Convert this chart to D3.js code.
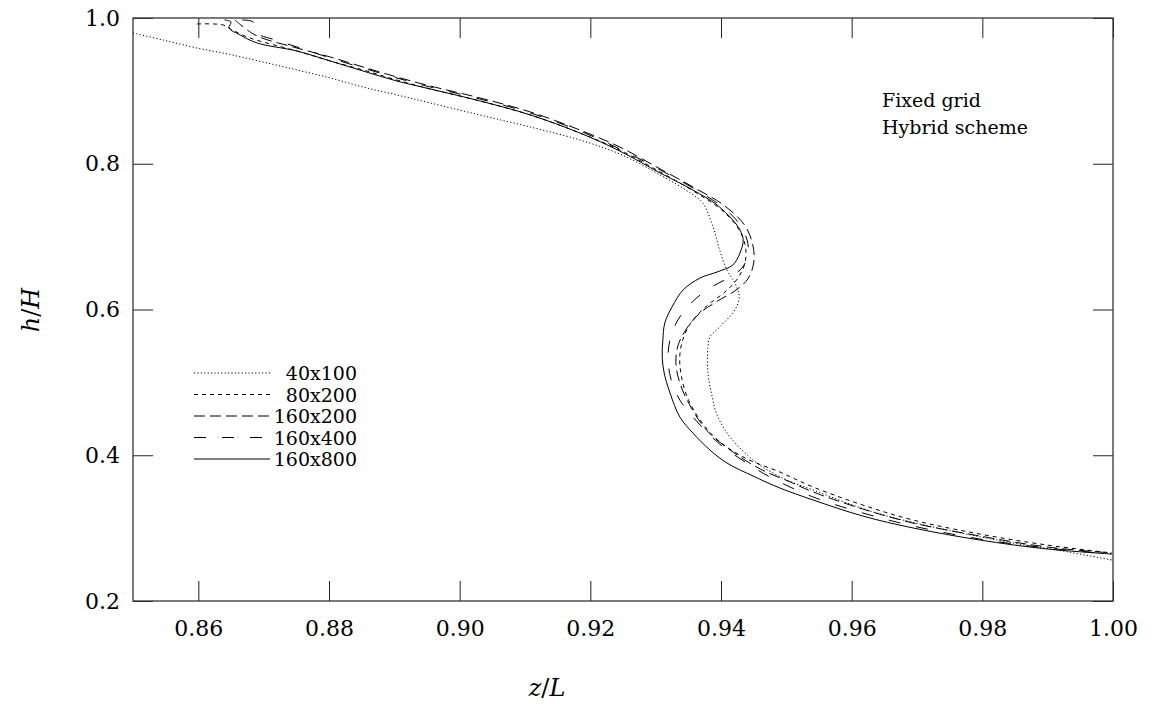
<!DOCTYPE html>
<html>
<head>
<meta charset="utf-8">
<script src="https://cdn.jsdelivr.net/npm/d3@7"></script>
<style>
  body { margin: 0; background: #fff; }
  svg { display: block; font-family: "DejaVu Serif", serif; }
</style>
</head>
<body>
<svg id="chart" width="1154" height="709"></svg>
<script>
// series names + dash styles (legend order)
const seriesNames = ["40x100", "80x200", "160x200", "160x400", "160x800"];
const dashes = ["1.2,2.2", "4,4", "11,5", "12,16", null];

const xTicks = [0.86, 0.88, 0.90, 0.92, 0.94, 0.96, 0.98, 1.00];
const yTicks = [0.2, 0.4, 0.6, 0.8, 1.0];

// 40x100 (dotted)
const z40x100 = [0.8500, 0.8546, 0.8598, 0.8648, 0.8699, 0.8751, 0.8802, 0.8852, 0.8904, 0.8955, 0.9031, 0.9108, 0.9184, 0.9245, 0.9307, 0.9353, 0.9372, 0.9388, 0.9398, 0.9409, 0.9421, 0.9428, 0.9421, 0.9398, 0.9383, 0.9380, 0.9380, 0.9386, 0.9394, 0.9414, 0.9455, 0.9501, 0.9541, 0.9593, 0.9643, 0.9746, 0.9847, 0.9923, 0.9998];
const h40x100 = [0.9794, 0.9698, 0.9588, 0.9500, 0.9396, 0.9287, 0.9177, 0.9053, 0.8944, 0.8834, 0.8669, 0.8504, 0.8326, 0.8134, 0.7846, 0.7599, 0.7461, 0.7132, 0.6816, 0.6542, 0.6364, 0.6172, 0.5993, 0.5760, 0.5623, 0.5485, 0.5129, 0.4827, 0.4552, 0.4250, 0.3894, 0.3660, 0.3523, 0.3345, 0.3194, 0.2974, 0.2796, 0.2686, 0.2563];

// 80x200 (short dash)
const z80x200 = [0.8598, 0.8638, 0.8652, 0.8679, 0.8751, 0.8802, 0.8852, 0.8904, 0.8955, 0.9031, 0.9108, 0.9184, 0.9245, 0.9307, 0.9360, 0.9401, 0.9426, 0.9437, 0.9437, 0.9426, 0.9406, 0.9380, 0.9357, 0.9343, 0.9337, 0.9339, 0.9349, 0.9368, 0.9395, 0.9437, 0.9490, 0.9541, 0.9617, 0.9694, 0.9796, 0.9899, 0.9998];
const h80x200 = [0.9918, 0.9904, 0.9835, 0.9726, 0.9547, 0.9410, 0.9287, 0.9149, 0.9026, 0.8862, 0.8670, 0.8422, 0.8189, 0.7887, 0.7613, 0.7365, 0.7118, 0.6885, 0.6652, 0.6432, 0.6240, 0.6062, 0.5856, 0.5623, 0.5376, 0.5101, 0.4786, 0.4484, 0.4209, 0.3962, 0.3770, 0.3564, 0.3317, 0.3111, 0.2919, 0.2768, 0.2659];

// 160x200 (medium dash)
const z160x200 = [0.8656, 0.8667, 0.8690, 0.8751, 0.8802, 0.8852, 0.8904, 0.8955, 0.9031, 0.9108, 0.9184, 0.9245, 0.9307, 0.9360, 0.9406, 0.9437, 0.9449, 0.9450, 0.9441, 0.9421, 0.9395, 0.9368, 0.9347, 0.9334, 0.9331, 0.9337, 0.9353, 0.9379, 0.9414, 0.9460, 0.9506, 0.9541, 0.9617, 0.9694, 0.9796, 0.9899, 0.9998];
const h160x200 = [0.9973, 0.9890, 0.9753, 0.9588, 0.9465, 0.9328, 0.9190, 0.9067, 0.8903, 0.8711, 0.8463, 0.8230, 0.7928, 0.7667, 0.7420, 0.7146, 0.6871, 0.6638, 0.6418, 0.6254, 0.6117, 0.5952, 0.5733, 0.5500, 0.5266, 0.4992, 0.4676, 0.4333, 0.4072, 0.3811, 0.3633, 0.3496, 0.3262, 0.3070, 0.2892, 0.2741, 0.2659];

// 160x400 (long dash)
const z160x400 = [0.8667, 0.8684, 0.8690, 0.8718, 0.8756, 0.8802, 0.8852, 0.8904, 0.8955, 0.9031, 0.9108, 0.9184, 0.9245, 0.9307, 0.9357, 0.9398, 0.9426, 0.9440, 0.9441, 0.9432, 0.9411, 0.9383, 0.9356, 0.9334, 0.9322, 0.9319, 0.9323, 0.9337, 0.9368, 0.9398, 0.9437, 0.9475, 0.9541, 0.9617, 0.9694, 0.9796, 0.9899, 0.9998];
const h160x400 = [0.9973, 0.9945, 0.9794, 0.9698, 0.9588, 0.9451, 0.9314, 0.9177, 0.9053, 0.8889, 0.8697, 0.8450, 0.8203, 0.7915, 0.7667, 0.7434, 0.7201, 0.6954, 0.6748, 0.6569, 0.6432, 0.6295, 0.6103, 0.5856, 0.5582, 0.5335, 0.5060, 0.4758, 0.4415, 0.4154, 0.3907, 0.3701, 0.3427, 0.3208, 0.3029, 0.2851, 0.2727, 0.2645];

// 160x800 (solid)
const z160x800 = [0.8640, 0.8650, 0.8647, 0.8664, 0.8690, 0.8751, 0.8802, 0.8852, 0.8904, 0.8955, 0.9031, 0.9108, 0.9184, 0.9245, 0.9307, 0.9357, 0.9394, 0.9418, 0.9429, 0.9434, 0.9429, 0.9418, 0.9394, 0.9368, 0.9342, 0.9325, 0.9314, 0.9311, 0.9310, 0.9313, 0.9322, 0.9337, 0.9357, 0.9383, 0.9409, 0.9449, 0.9490, 0.9541, 0.9617, 0.9694, 0.9796, 0.9899, 0.9998];
const h160x800 = [0.9973, 0.9945, 0.9863, 0.9767, 0.9657, 0.9547, 0.9410, 0.9273, 0.9135, 0.9026, 0.8862, 0.8670, 0.8422, 0.8175, 0.7873, 0.7640, 0.7434, 0.7228, 0.7091, 0.6954, 0.6775, 0.6610, 0.6515, 0.6432, 0.6268, 0.6035, 0.5815, 0.5582, 0.5348, 0.5129, 0.4854, 0.4525, 0.4305, 0.4072, 0.3894, 0.3715, 0.3551, 0.3386, 0.3166, 0.3002, 0.2837, 0.2714, 0.2645];

const zs = [z40x100, z80x200, z160x200, z160x400, z160x800];
const hs = [h40x100, h80x200, h160x200, h160x400, h160x800];

const svg = d3.select("#chart");
const mLeft = 133, mRight = 1113, mTop = 18, mBottom = 601;

const x = d3.scaleLinear().domain([0.85, 1.0]).range([mLeft, mRight]);
const y = d3.scaleLinear().domain([0.2, 1.0]).range([mBottom, mTop]);

svg.append("rect").attr("width", 1154).attr("height", 709).attr("fill", "#fff");

// axes, ticks point inward
const gx = svg.append("g")
  .attr("transform", `translate(0,${mBottom})`)
  .call(d3.axisBottom(x).tickValues(xTicks).tickSize(-20).tickPadding(19).tickFormat(d3.format(".2f")));
const gxTop = svg.append("g")
  .attr("transform", `translate(0,${mTop})`)
  .call(d3.axisTop(x).tickValues(xTicks).tickSize(-20).tickFormat(""));
const gy = svg.append("g")
  .attr("transform", `translate(${mLeft},0)`)
  .call(d3.axisLeft(y).tickValues(yTicks).tickSize(-20).tickPadding(13).tickFormat(d3.format(".1f")));
const gyRight = svg.append("g")
  .attr("transform", `translate(${mRight},0)`)
  .call(d3.axisRight(y).tickValues(yTicks).tickSize(-20).tickFormat(""));

[gx, gxTop, gy, gyRight].forEach(g => {
  g.select(".domain").remove();
  g.selectAll(".tick line").attr("stroke", "#222").attr("stroke-width", 1);
  g.selectAll("text").attr("font-family", "DejaVu Serif").attr("font-size", 22).attr("fill", "#000");
});

svg.append("rect")
  .attr("x", mLeft).attr("y", mTop)
  .attr("width", mRight - mLeft).attr("height", mBottom - mTop)
  .attr("fill", "none").attr("stroke", "#333").attr("stroke-width", 1.3);

// curves
const line = d3.line()
  .x(d => x(d[0]))
  .y(d => y(d[1]))
  .curve(d3.curveCatmullRom.alpha(0.5));

const plot = svg.append("g");
seriesNames.forEach((name, i) => {
  const pts = d3.zip(zs[i], hs[i]);
  plot.append("path")
    .datum(pts)
    .attr("d", line)
    .attr("fill", "none")
    .attr("stroke", "#000")
    .attr("stroke-width", 1)
    .attr("stroke-dasharray", dashes[i]);
});

// legend
const legend = svg.append("g").attr("transform", "translate(194,373)");
seriesNames.forEach((name, i) => {
  const row = legend.append("g").attr("transform", `translate(0,${i * 21.5})`);
  row.append("line")
    .attr("x1", 0).attr("x2", 76)
    .attr("stroke", "#000").attr("stroke-width", 1)
    .attr("stroke-dasharray", dashes[i]);
  row.append("text")
    .attr("x", 163).attr("y", 7)
    .attr("text-anchor", "end")
    .attr("font-size", 19)
    .attr("fill", "#000")
    .text(name);
});

// annotation
svg.append("text").attr("x", 882).attr("y", 107).attr("font-size", 19).attr("fill", "#000").text("Fixed grid");
svg.append("text").attr("x", 882).attr("y", 134).attr("font-size", 19).attr("fill", "#000").text("Hybrid scheme");

// axis titles
const xt = svg.append("text")
  .attr("x", 547).attr("y", 696)
  .attr("text-anchor", "middle")
  .attr("font-size", 24).attr("fill", "#000");
xt.append("tspan").attr("font-style", "italic").text("z");
xt.append("tspan").text("/");
xt.append("tspan").attr("font-style", "italic").text("L");

const yt = svg.append("text")
  .attr("transform", "translate(39,310) rotate(-90)")
  .attr("text-anchor", "middle")
  .attr("font-size", 24).attr("fill", "#000");
yt.append("tspan").attr("font-style", "italic").text("h");
yt.append("tspan").text("/");
yt.append("tspan").attr("font-style", "italic").text("H");
</script>
</body>
</html>
